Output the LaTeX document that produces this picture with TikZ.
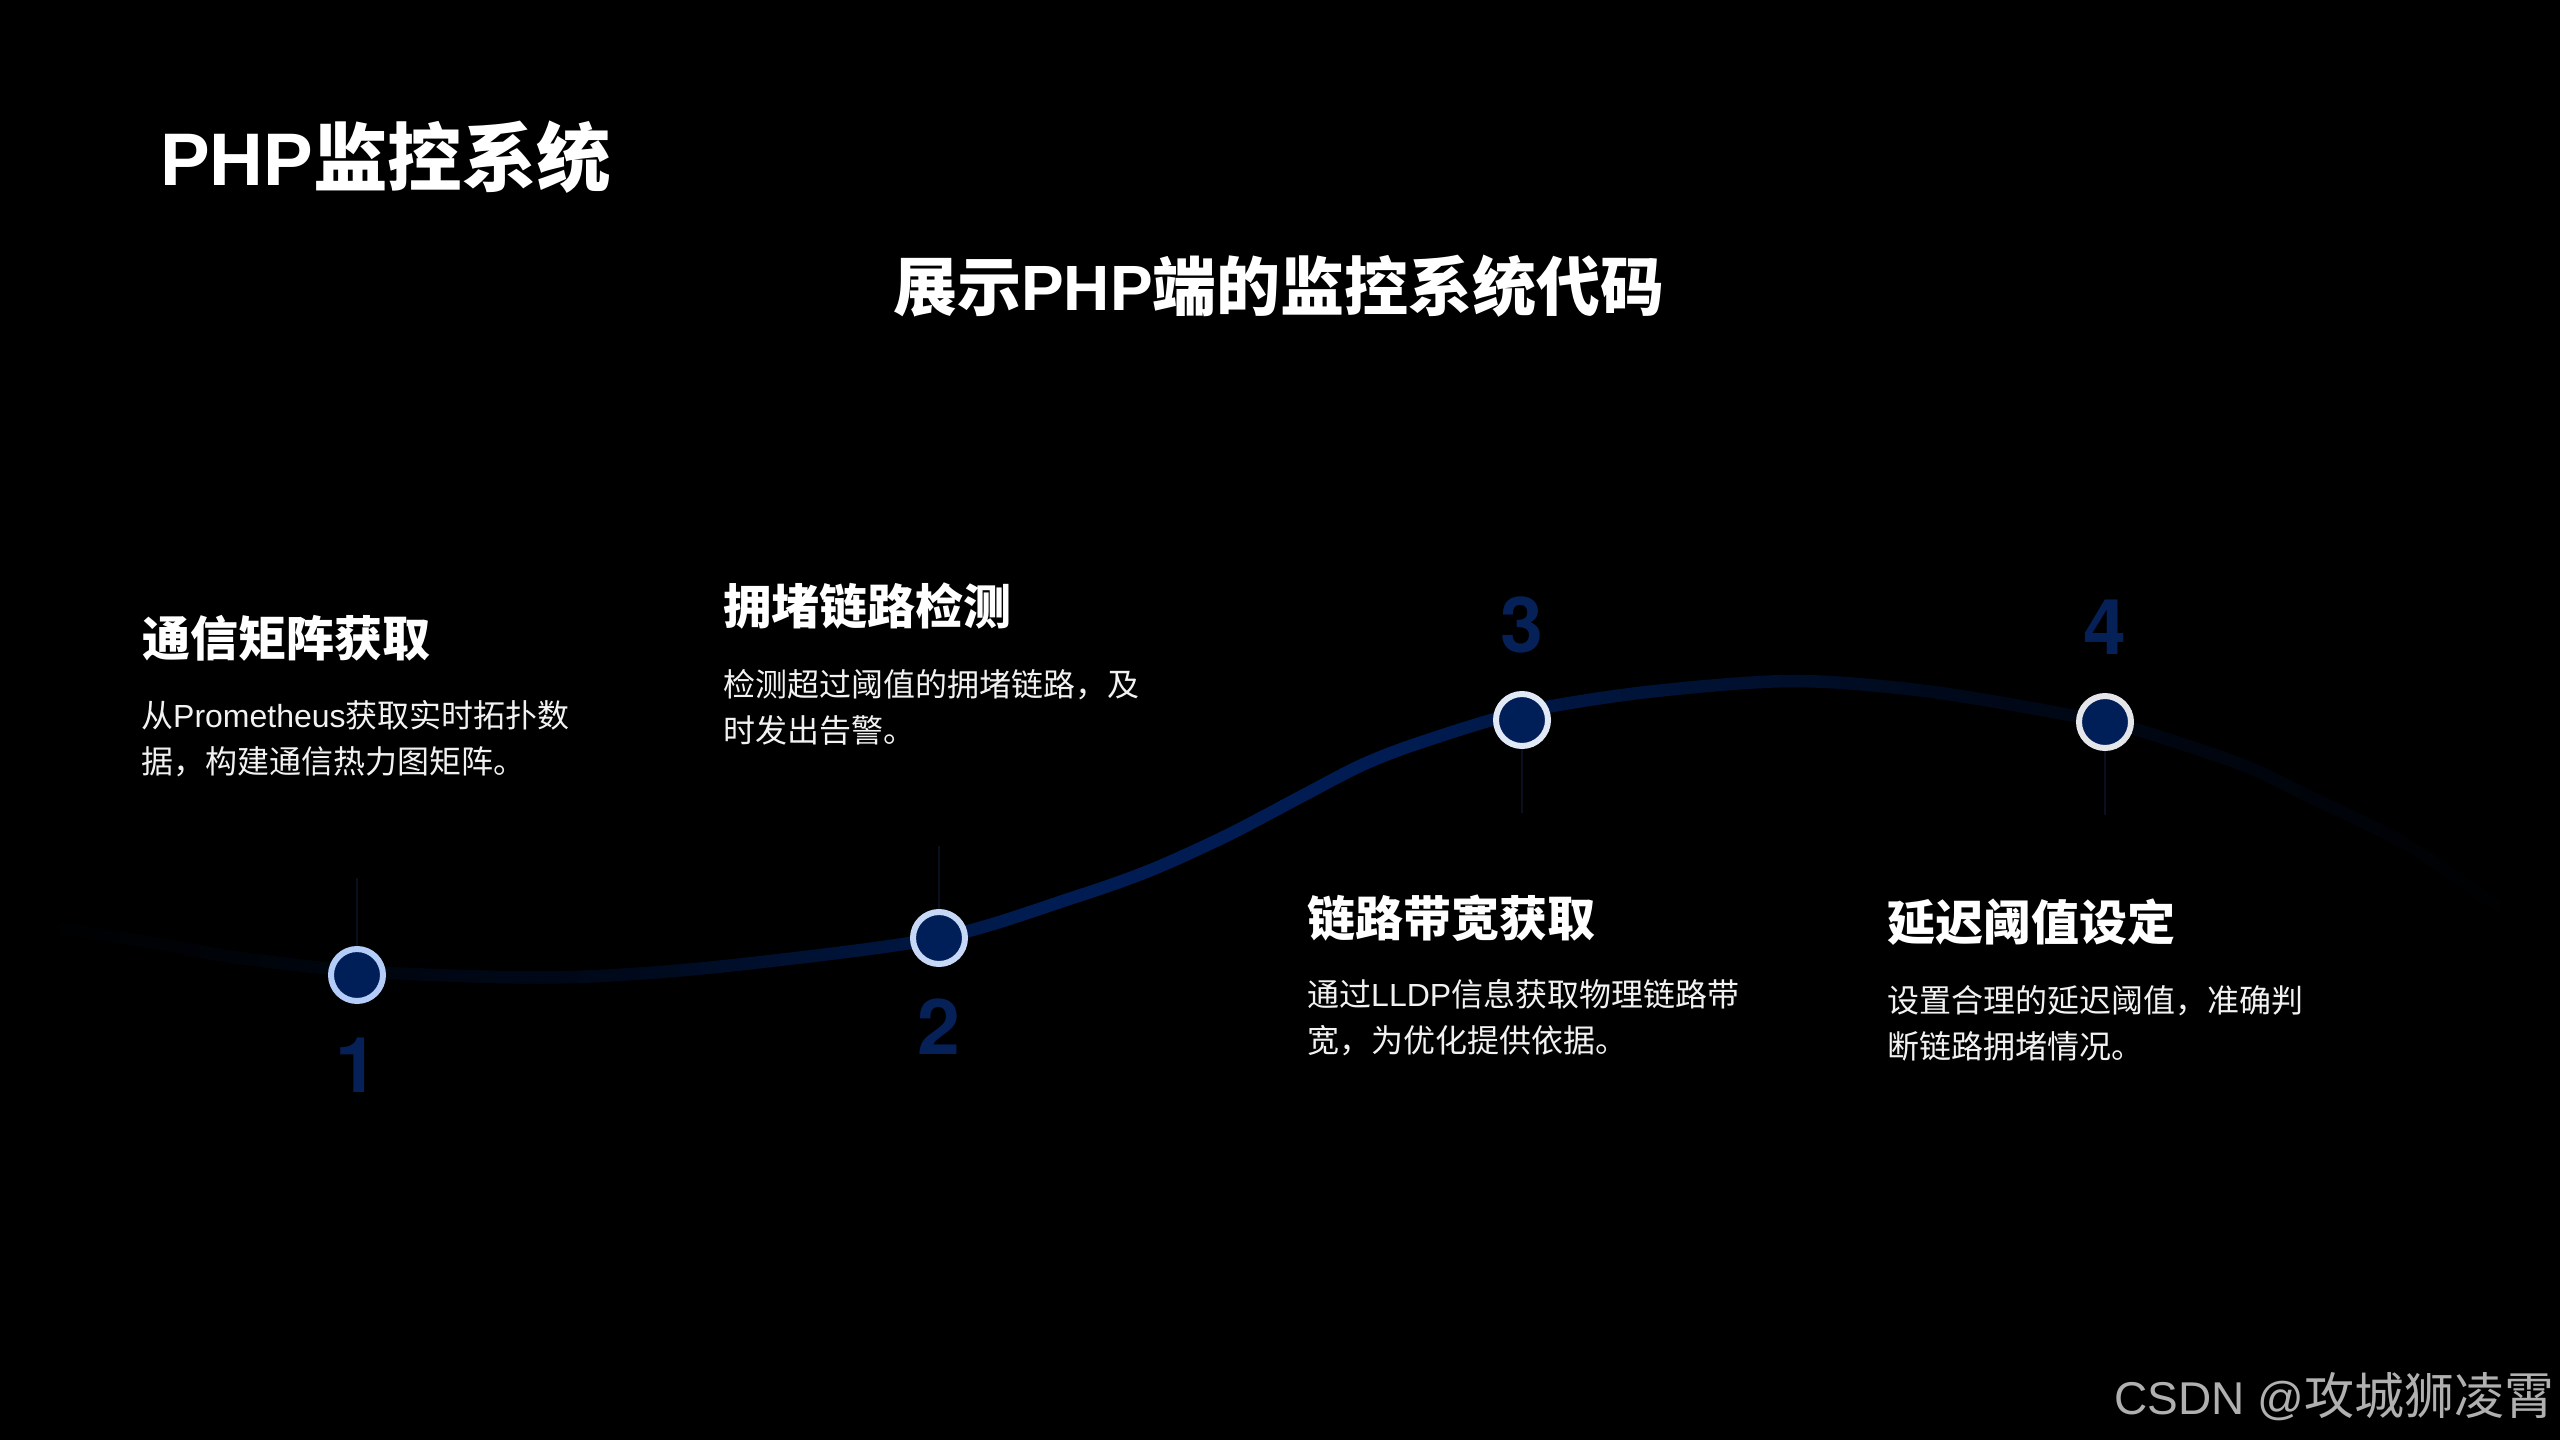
\documentclass[tikz,border=0pt]{standalone}
\usepackage{fontspec}
\usetikzlibrary{backgrounds}
\setmainfont{Liberation Sans}
\newfontfamily\cjk{Noto Sans CJK SC}
\newfontfamily\numfont{TeX Gyre Heros}
\definecolor{navy}{HTML}{001E58}
\definecolor{linecol}{HTML}{001C52}
\definecolor{numcol}{HTML}{062058}
\definecolor{stemcol}{HTML}{090F1F}
\definecolor{bodycol}{HTML}{F2F2F2}
\definecolor{markcol}{HTML}{B0B0B0}
\definecolor{ringa}{HTML}{B4CDF8}
\definecolor{ringb}{HTML}{C6D8F6}
\definecolor{ringc}{HTML}{E2E9F6}
\definecolor{ringd}{HTML}{E4E6EA}
\newcommand{\cj}[1]{{\cjk #1}}
\tikzset{
  dotnode/.style={circle,draw=#1,fill=navy,line width=6pt,minimum size=52pt,inner sep=0pt,outer sep=0pt},
  numlabel/.style={text=numcol,inner sep=0pt,anchor=base,font=\fontsize{77}{77}\selectfont\numfont\bfseries},
  headlabel/.style={text=white,inner sep=0pt,anchor=base west,font=\fontsize{48}{48}\selectfont\cjk\bfseries},
  bodylabel/.style={text=bodycol,inner sep=0pt,anchor=north west,align=left,font=\fontsize{32}{46}\selectfont},
  titlelabel/.style={text=white,inner sep=0pt,anchor=base west,font=\fontsize{64}{64}\selectfont\bfseries},
  bigtitlelabel/.style={titlelabel,font=\fontsize{74.5}{75}\selectfont\bfseries},
  markerlabel/.style={text=markcol,inner sep=0pt,anchor=base west,font=\fontsize{46}{46}\selectfont},
  stem/.style={draw=stemcol,line width=1.2pt},
  curveline/.style={line width=12.5pt,line cap=butt}
}
\begin{document}
\begin{tikzpicture}[x=1pt,y=-1pt]
\useasboundingbox (0,0) rectangle (2560,1440);
% markers
\node[dotnode=ringa] (n1) at (357,975) {};
\node[dotnode=ringb] (n2) at (939,938) {};
\node[dotnode=ringc] (n3) at (1522,720) {};
\node[dotnode=ringd] (n4) at (2105,722) {};
% curve waypoints
\coordinate (c0) at (40,925);
\coordinate (c1) at (153,943);
\coordinate (c2) at (240,958);
\coordinate (p1) at (357,971);
\coordinate (c3) at (497,977);
\coordinate (c4) at (600,976);
\coordinate (c5) at (735,965);
\coordinate (c6) at (1075,897);
\coordinate (c7) at (1151,870);
\coordinate (c8) at (1228,835);
\coordinate (c9) at (1304,795);
\coordinate (c10) at (1362,765);
\coordinate (c11) at (1419,743);
\coordinate (p3) at (1522,712);
\coordinate (c12) at (1647,692);
\coordinate (c13) at (1794,681);
\coordinate (c14) at (1933,692);
\coordinate (c15) at (2179,743);
\coordinate (c16) at (2250,768);
\coordinate (c17) at (2321,802);
\coordinate (c18) at (2393,837);
\coordinate (c19) at (2446,870);
\coordinate (c20) at (2505,912);
% stems ends
\coordinate (s1) at (357,878);
\coordinate (s2) at (939,846);
\coordinate (s3) at (1522,813);
\coordinate (s4) at (2105,815);
\begin{scope}[on background layer]
  \fill[black] (0,0) rectangle (2560,1440);
  \foreach \i in {2,...,126}{
    \pgfmathsetmacro{\xa}{\i*20}
    \pgfmathsetmacro{\xb}{\xa+21}
    \pgfmathsetmacro{\xm}{\xa+10}
    \pgfmathsetmacro{\pleft}{max((\xm-30)*0.055,(\xm-430)*0.165)}
    \pgfmathsetmacro{\pright}{max((2540-\xm)*0.055,(2200-\xm)*0.125)}
    \pgfmathsetmacro{\pct}{max(0,min(100,min(\pleft,\pright)))}
    \colorlet{stripcol}{linecol!\pct!black}
    \begin{scope}
      \clip (\xa,600) rectangle (\xb,1020);
      \draw[curveline,draw=stripcol] plot[smooth,tension=0.5] coordinates {(c0) (c1) (c2) (p1) (c3) (c4) (c5) (n2.center) (c6) (c7) (c8) (c9) (c10) (c11) (p3) (c12) (c13) (c14) (n4.center) (c15) (c16) (c17) (c18) (c19) (c20)};
    \end{scope}
  }
  \draw[stem] (n1.north) -- (s1);
  \draw[stem] (n2.north) -- (s2);
  \draw[stem] (n3.south) -- (s3);
  \draw[stem] (n4.south) -- (s4);
\end{scope}
% numbers
\node[numlabel] (num1) at (357,1092) {1};
\node[numlabel] (num2) at (939,1054) {2};
\node[numlabel] (num3) at (1522,652) {3};
\node[numlabel] (num4) at (2105,654) {4};
% titles
\node[bigtitlelabel] (title) at (160,185) {PHP{\cjk 监控系统}};
\node[titlelabel] (subtitle) at (893,310) {{\cjk 展示}PHP{\cjk 端的监控系统代码}};
% headings
\node[headlabel] (h1) at (142,656) {通信矩阵获取};
\node[headlabel] (h2) at (723,624) {拥堵链路检测};
\node[headlabel] (h3) at (1307,936) {链路带宽获取};
\node[headlabel] (h4) at (1887,940) {延迟阈值设定};
% bodies
\node[bodylabel] (b1) at (141,700) {\cj{从}Prometheus\cj{获取实时拓扑数}\\\cj{据，构建通信热力图矩阵。}};
\node[bodylabel] (b2) at (723,669) {\cj{检测超过阈值的拥堵链路，及}\\\cj{时发出告警。}};
\node[bodylabel] (b3) at (1307,979) {\cj{通过}LLDP\cj{信息获取物理链路带}\\\cj{宽，为优化提供依据。}};
\node[bodylabel] (b4) at (1887,985) {\cj{设置合理的延迟阈值，准确判}\\\cj{断链路拥堵情况。}};
% watermark
\node[markerlabel] (wm) at (2114,1414) {CSDN @{\fontsize{50}{50}\selectfont\cjk 攻城狮凌霄}};
\end{tikzpicture}
\end{document}
